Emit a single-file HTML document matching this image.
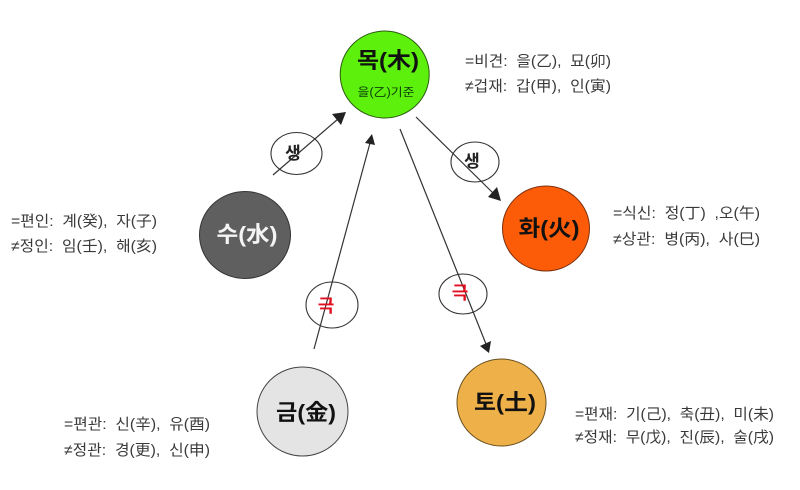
<!DOCTYPE html>
<html lang="ko">
<head>
<meta charset="utf-8">
<style>
html,body{margin:0;padding:0;background:#fff;width:800px;height:490px;overflow:hidden}
svg{display:block}
text{font-family:"Liberation Sans","Noto Sans CJK KR",sans-serif;white-space:pre}
.t{font-size:15px;fill:#3a3a3a}
.n{font-size:22px;font-weight:bold;fill:#111;text-anchor:middle}
.s{font-size:17px;font-weight:bold;fill:#222;text-anchor:middle}
.k{font-size:18px;font-weight:bold;fill:#e01020;text-anchor:middle}
.l{stroke:#333;stroke-width:1.2;fill:none}
.e{stroke:#333;stroke-width:1.1;fill:none}
</style>
</head>
<body>
<svg width="800" height="490" viewBox="0 0 800 490" xmlns="http://www.w3.org/2000/svg">
<rect width="800" height="490" fill="#fff"/>

<ellipse cx="296.5" cy="153.5" rx="25.5" ry="21" class="e"/>
<ellipse cx="475" cy="162" rx="24" ry="20" class="e"/>
<ellipse cx="332" cy="305" rx="26" ry="23" class="e"/>
<ellipse cx="463" cy="294" rx="24" ry="20" class="e"/>

<line x1="273" y1="175" x2="338" y2="119" class="l"/>
<polygon points="346,112 341,125 332,114" fill="#222"/>
<line x1="416" y1="117" x2="494" y2="194" class="l"/>
<polygon points="501,201 488,197 497,187" fill="#222"/>
<line x1="314" y1="349" x2="370" y2="143" class="l"/>
<polygon points="372,134 375,145 365,143" fill="#222"/>
<line x1="400" y1="129" x2="486" y2="344" class="l"/>
<polygon points="489,353 480,346 491,341" fill="#222"/>

<ellipse cx="384.7" cy="74.5" rx="44.5" ry="43.5" fill="#5cf00c" stroke="#2c5a10"/>
<ellipse cx="245" cy="235" rx="45.5" ry="43.5" fill="#5f5f5f" stroke="#333"/>
<ellipse cx="546" cy="228.5" rx="43.5" ry="42.5" fill="#fc5c08" stroke="#7a3010"/>
<ellipse cx="302.5" cy="411.5" rx="45.5" ry="44.5" fill="#e4e4e4" stroke="#444"/>
<ellipse cx="501.5" cy="402.5" rx="44.5" ry="43.5" fill="#eeb048" stroke="#6a5020"/>

<text x="388" y="68" class="n" textLength="62" lengthAdjust="spacingAndGlyphs">목(木)</text>
<text x="386" y="96" style="font-size:11.5px;fill:#0d400a;text-anchor:middle" textLength="57" lengthAdjust="spacingAndGlyphs">을(乙)기준</text>
<text x="247" y="242" class="n" style="fill:#f4f4f4" textLength="61" lengthAdjust="spacingAndGlyphs">수(水)</text>
<text x="549" y="236" class="n" textLength="61" lengthAdjust="spacingAndGlyphs">화(火)</text>
<text x="306" y="420" class="n" textLength="60" lengthAdjust="spacingAndGlyphs">금(金)</text>
<text x="505" y="410" class="n" textLength="62" lengthAdjust="spacingAndGlyphs">토(土)</text>

<text x="293" y="159" class="s">생</text>
<text x="472" y="167" class="s">생</text>
<text x="326" y="312" class="k">극</text>
<text x="460" y="299" class="k">극</text>

<text x="465" y="66" class="t" textLength="146" lengthAdjust="spacingAndGlyphs">=비견:  을(乙),  묘(卯)</text>
<text x="465" y="91" class="t" textLength="146" lengthAdjust="spacingAndGlyphs">≠겁재:  갑(甲),  인(寅)</text>
<text x="11" y="226" class="t" textLength="146" lengthAdjust="spacingAndGlyphs">=편인:  계(癸),  자(子)</text>
<text x="11" y="251" class="t" textLength="146" lengthAdjust="spacingAndGlyphs">≠정인:  임(壬),  해(亥)</text>
<text x="613" y="218" class="t" textLength="147" lengthAdjust="spacingAndGlyphs">=식신:  정(丁)  ,오(午)</text>
<text x="613" y="244" class="t" textLength="147" lengthAdjust="spacingAndGlyphs">≠상관:  병(丙),  사(巳)</text>
<text x="64" y="429" class="t" textLength="146" lengthAdjust="spacingAndGlyphs">=편관:  신(辛),  유(酉)</text>
<text x="64" y="455" class="t" textLength="146" lengthAdjust="spacingAndGlyphs">≠정관:  경(更),  신(申)</text>
<text x="575" y="419" class="t" textLength="199" lengthAdjust="spacingAndGlyphs">=편재:  기(己),  축(丑),  미(未)</text>
<text x="575" y="442" class="t" textLength="199" lengthAdjust="spacingAndGlyphs">≠정재:  무(戊),  진(辰),  술(戌)</text>
</svg>
</body>
</html>
